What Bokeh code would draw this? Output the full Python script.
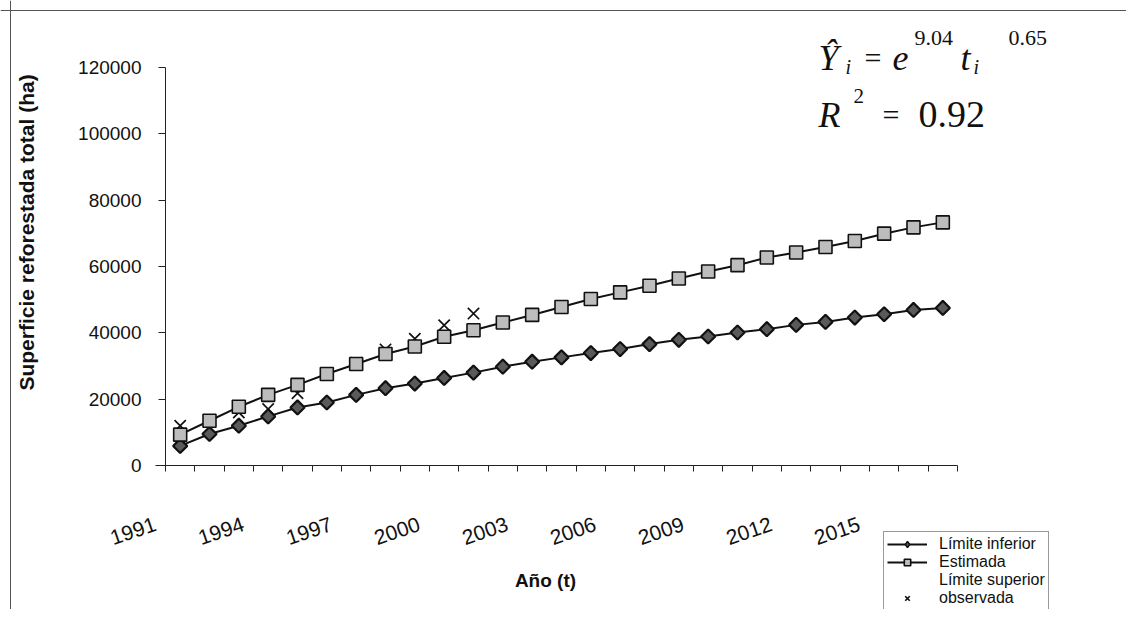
import math
from bokeh.plotting import figure
from bokeh.models import Range1d, FixedTicker, Legend, LegendItem, Label, Span
from bokeh.embed import file_html
from bokeh.resources import INLINE

# ---------------- data ----------------
years = [1991, 1992, 1993, 1994, 1995, 1996, 1997, 1998, 1999, 2000,
         2001, 2002, 2003, 2004, 2005, 2006, 2007, 2008, 2009, 2010,
         2011, 2012, 2013, 2014, 2015, 2016, 2017]
tick_labels = ["1991", "1994", "1997", "2000", "2003", "2006", "2009", "2012", "2015"]
y_ticks = [0, 20000, 40000, 60000, 80000, 100000, 120000]

limite_inferior = [5900, 9500, 12000, 14800, 17500, 19000, 21300, 23300, 24700,
                   26400, 28000, 29800, 31300, 32600, 33900, 35100, 36600, 37900,
                   38900, 40100, 41100, 42400, 43300, 44600, 45600, 46900, 47500]
estimada = [9300, 13500, 17700, 21300, 24300, 27600, 30600, 33600, 35900,
            38800, 40800, 43100, 45400, 47800, 50200, 52200, 54200, 56400,
            58500, 60400, 62700, 64200, 65900, 67700, 69900, 71800, 73300]
observada_years = [1991, 1992, 1993, 1994, 1995, 1996, 1997, 1998, 1999, 2000, 2001]
observada = [12000, 13300, 16000, 17000, 21800, 27500, 31000, 35000, 38200, 42300, 45800]
limite_superior_years = []   # series not visible in the original, legend entry only
limite_superior = []

# ---------------- layout (pixels of the picture) ----------------
W, H = 1126, 609
AX_LEFT, AX_BOTTOM, AX_TOP = 165.0, 465.0, 67.0   # axis positions
CAT_W = 29.333                                     # width of one category
Y_MAX = 120000
PX_PER_Y = (AX_BOTTOM - AX_TOP) / Y_MAX

def dx(px):
    return -0.5 + (px - AX_LEFT) / CAT_W
def dy(py):
    return (AX_BOTTOM - py) / PX_PER_Y

x_all = [years.index(y) for y in years]
x_obs = [years.index(y) for y in observada_years]
x_sup = [years.index(y) for y in limite_superior_years]

p = figure(width=W, height=H, output_backend="svg", toolbar_location=None,
           x_range=Range1d(dx(0), dx(W)), y_range=Range1d(dy(H), dy(0)),
           min_border=0, min_border_left=0, min_border_right=0,
           min_border_top=0, min_border_bottom=0,
           background_fill_color="white", border_fill_color="white")
p.outline_line_color = None
p.xgrid.visible = False
p.ygrid.visible = False

# outer chart border (top and left, the rest is cut off in the original)
p.add_layout(Span(location=dx(10), dimension="height", line_color="#555", line_width=1))
p.add_layout(Span(location=dy(10), dimension="width", line_color="#555", line_width=1))

# x axis: boundary ticks as minor ticks, labels every third year
LABEL_SHIFT = 0.85
label_pos = [years.index(int(t)) - LABEL_SHIFT for t in tick_labels]
xa = p.xaxis[0]
xa.fixed_location = 0
xa.bounds = (label_pos[0], len(years) - 0.5)
xa.ticker = FixedTicker(ticks=label_pos,
                        minor_ticks=[i - 0.5 for i in range(len(years) + 1)])
xa.major_label_overrides = {pos: t for pos, t in zip(label_pos, tick_labels)}
xa.major_tick_line_color = None
xa.major_tick_out = 0
xa.major_tick_in = 0
xa.minor_tick_out = 6
xa.minor_tick_in = 0
xa.minor_tick_line_color = "#222"
xa.axis_line_color = "#222"
xa.major_label_orientation = 0.33
xa.major_label_standoff = 52
xa.major_label_text_font = "Liberation Sans"
xa.major_label_text_font_size = "21px"
xa.major_label_text_color = "#111"

ya = p.yaxis[0]
ya.fixed_location = -0.5
ya.bounds = (0, Y_MAX)
ya.ticker = FixedTicker(ticks=y_ticks, minor_ticks=[])
ya.major_tick_out = 7
ya.major_tick_in = 0
ya.major_tick_line_color = "#222"
ya.axis_line_color = "#222"
ya.major_label_standoff = 17
ya.major_label_text_font = "Liberation Sans"
ya.major_label_text_font_size = "19px"
ya.major_label_text_color = "#111"
ya.formatter.use_scientific = False

# ---------------- series ----------------
r_inf_line = p.line(x_all, limite_inferior, line_color="#111", line_width=2)
# diamond key for the legend: drawn under the first rotated-square marker
r_inf_key = p.scatter(x_all[:1], limite_inferior[:1], marker="diamond", size=13,
                      fill_color="#5a5a5a", line_color="#111", line_width=1.5)
r_inf_mark = p.scatter(x_all, limite_inferior, marker="square", angle=math.pi / 4,
                       size=10, fill_color="#5a5a5a", line_color="#111", line_width=2.2)
r_obs = p.scatter(x_obs, observada, marker="x", size=16, line_color="#111", line_width=1.7)
r_est_line = p.line(x_all, estimada, line_color="#111", line_width=2)
r_est_mark = p.scatter(x_all, estimada, marker="square", size=13,
                       fill_color="#bdbdbd", line_color="#111", line_width=1.6)
r_sup = p.line(x_sup, limite_superior, line_color="#111", line_alpha=0)

legend = Legend(items=[
    LegendItem(label="Límite inferior", renderers=[r_inf_line, r_inf_key]),
    LegendItem(label="Estimada", renderers=[r_est_line, r_est_mark]),
    LegendItem(label="Límite superior", renderers=[r_sup]),
    LegendItem(label="observada", renderers=[r_obs]),
], location=(883, -2))
legend.label_text_font = "Liberation Sans"
legend.label_text_font_size = "16px"
legend.label_text_color = "#111"
legend.label_height = 16
legend.glyph_height = 16
legend.glyph_width = 40
legend.label_standoff = 12
legend.padding = 3
legend.spacing = 0
legend.margin = 0
legend.border_line_color = "#333"
legend.border_line_width = 1
legend.background_fill_color = "white"
legend.background_fill_alpha = 1
p.add_layout(legend, "center")

# ---------------- titles ----------------
p.add_layout(Label(x=dx(26), y=dy(229), text="Superficie  reforestada total (ha)",
                   angle=math.pi / 2, text_align="center", text_baseline="middle",
                   text_font="Liberation Sans", text_font_style="bold",
                   text_font_size="21px", text_color="#111"))
p.add_layout(Label(x=dx(545), y=dy(580), text="Año (t)",
                   text_align="center", text_baseline="middle",
                   text_font="Liberation Sans", text_font_style="bold",
                   text_font_size="19px", text_color="#111"))

# equation  (text, picture x, picture baseline y, size, style)
eq_parts = [
    ("Ŷ", 818, 57, "36px", "italic"),
    ("i", 845, 66, "20px", "italic"),
    ("=", 864, 57, "30px", "normal"),
    ("e", 892, 57, "36px", "italic"),
    ("9.04", 914, 37, "22px", "normal"),
    ("t", 960, 57, "36px", "italic"),
    ("i", 973, 66, "20px", "italic"),
    ("0.65", 1008, 37, "22px", "normal"),
    ("R", 818, 114, "36px", "italic"),
    ("2", 853, 95, "21px", "normal"),
    ("=", 882, 114, "30px", "normal"),
    ("0.92", 918, 114, "38px", "normal"),
]
for txt, px, py, size, style in eq_parts:
    p.add_layout(Label(x=dx(px), y=dy(py), text=txt, text_align="left",
                       text_baseline="alphabetic", text_font="Liberation Serif",
                       text_font_style=style, text_font_size=size, text_color="#111"))

open("out.html", "w").write(file_html(p, INLINE))
